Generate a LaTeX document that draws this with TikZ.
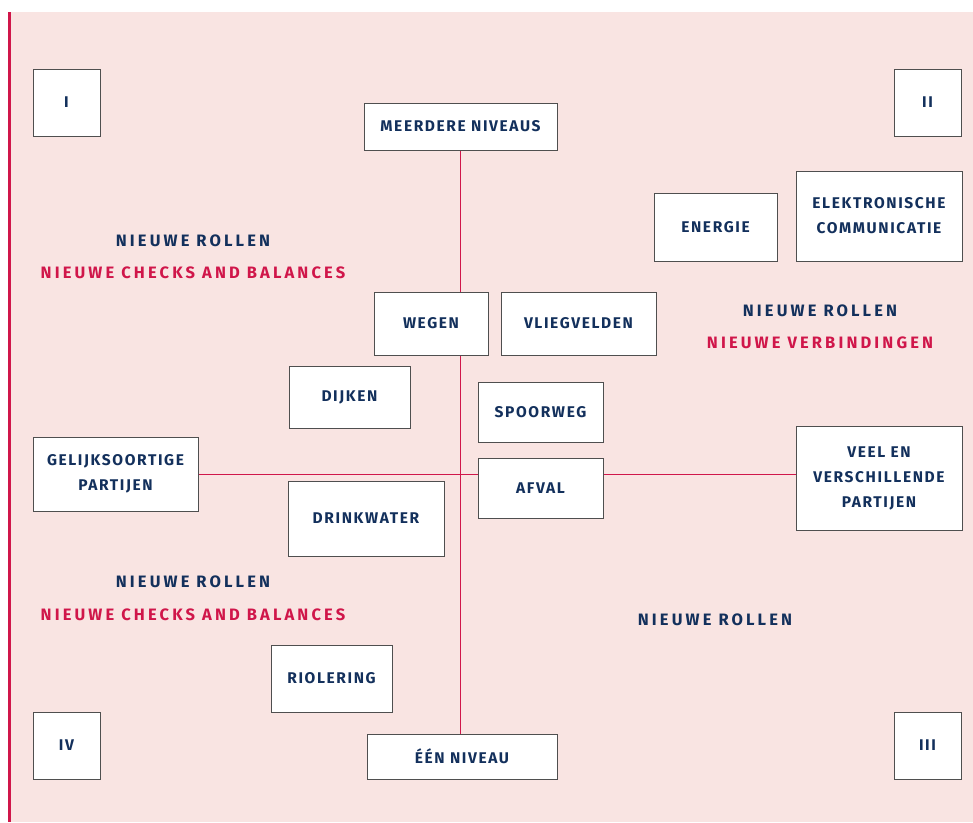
\documentclass[tikz,border=0pt]{standalone}
\usepackage{fontspec}
\setmainfont{Fira Sans}
\newfontfamily\boxfont[LetterSpace=10.5]{Fira Sans}
\newfontfamily\lblfont[LetterSpace=19]{Fira Sans}
\usetikzlibrary{backgrounds}
\definecolor{navy}{HTML}{13305C}
\definecolor{rood}{HTML}{D0164A}
\definecolor{roze}{HTML}{F9E4E2}
\definecolor{rand}{HTML}{4F4F4F}
\tikzset{
  bx/.style={draw=rand, line width=0.9pt, fill=white, text=navy, align=center,
    font=\boxfont\bfseries\fontsize{15.5}{25}\selectfont, inner sep=0pt},
  lblnavy/.style={text=navy, font=\lblfont\bfseries\fontsize{16.5}{18}\selectfont},
  lblred/.style={text=rood, font=\lblfont\bfseries\fontsize{16.5}{18}\selectfont},
  axis/.style={draw=rood, line width=0.9pt}
}
\newcommand{\bxat}[7]{% name, x1, y1, x2, y2, text
  \node[bx, minimum width={#4-#2}, minimum height={#5-#3}] (#1) at ({(#2+#4)/2},{(#3+#5)/2}) {#6};}
\begin{document}
\begin{tikzpicture}[x=1pt,y=-1pt]
\useasboundingbox (0,0) rectangle (973,822);
% boxes
\bxat{q1}{33}{69}{100}{136}{I}{}
\bxat{q2}{894}{69}{961}{136}{II}{}
\bxat{q4}{33}{712}{100}{779}{IV}{}
\bxat{q3}{894}{712}{961}{779}{III}{}
\bxat{mn}{364}{103}{557}{150}{MEERDERE NIVEAUS}{}
\bxat{en}{367}{734}{557}{779}{ÉÉN NIVEAU}{}
\bxat{gp}{33}{437}{198}{511}{GELIJKSOORTIGE\\PARTIJEN}{}
\bxat{vp}{796}{426}{962}{530}{VEEL EN\\VERSCHILLENDE\\PARTIJEN}{}
\bxat{ene}{654}{193}{777}{261}{ENERGIE}{}
\bxat{ek}{796}{171}{962}{261}{ELEKTRONISCHE\\COMMUNICATIE}{}
\bxat{weg}{374}{292}{488}{355}{WEGEN}{}
\bxat{vl}{501}{292}{656}{355}{VLIEGVELDEN}{}
\bxat{dij}{289}{366}{410}{428}{DIJKEN}{}
\bxat{sp}{478}{382}{603}{442}{SPOORWEG}{}
\bxat{af}{478}{458}{603}{518}{AFVAL}{}
\bxat{dw}{288}{481}{444}{556}{DRINKWATER}{}
\bxat{rio}{271}{645}{392}{712}{RIOLERING}{}
% labels
\node[lblnavy] (l1) at (193,241) {NIEUWE ROLLEN};
\node[lblred] (l2) at (193,273) {NIEUWE CHECKS AND BALANCES};
\node[lblnavy] (l3) at (820,311) {NIEUWE ROLLEN};
\node[lblred] (l4) at (820,343) {NIEUWE VERBINDINGEN};
\node[lblnavy] (l5) at (193,582) {NIEUWE ROLLEN};
\node[lblred] (l6) at (193,615) {NIEUWE CHECKS AND BALANCES};
\node[lblnavy] (l7) at (715,620) {NIEUWE ROLLEN};
\begin{scope}[on background layer]
  \fill[roze] (10,12) rectangle (973,822);
  \draw[rood, line width=2.2pt] (9.5,12) -- (9.5,822);
  \draw[axis] (mn.south) -- (mn.south |- en.north);
  \draw[axis] (gp.east) -- (gp.east -| vp.west);
\end{scope}
\end{tikzpicture}
\end{document}
